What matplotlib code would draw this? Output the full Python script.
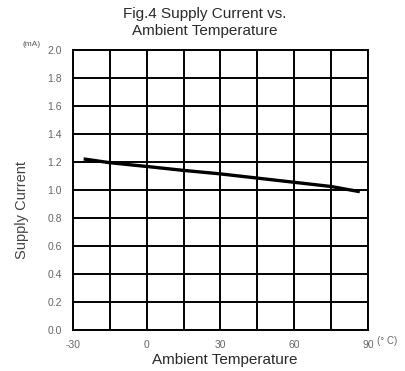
import numpy as np
import matplotlib
matplotlib.use('Agg')
import matplotlib.pyplot as plt

# data
temps   = [-25, -15, 0, 15, 30, 45, 60, 75, 86]
current = [1.22, 1.195, 1.168, 1.14, 1.115, 1.085, 1.055, 1.025, 0.99]

x_ticks  = [-30, 0, 30, 60, 90]
x_labels = ['-30', '0', '30', '60', '90']
y_ticks  = [0.0, 0.2, 0.4, 0.6, 0.8, 1.0, 1.2, 1.4, 1.6, 1.8, 2.0]

W, H = 406, 371
plt.rcParams['font.family'] = ['Liberation Sans', 'DejaVu Sans']

fig = plt.figure(figsize=(W / 100, H / 100), dpi=100)
# plot box: x 73..368 px, y 50..330 px
ax = fig.add_axes([73 / W, 1 - 330 / H, 295 / W, 280 / H])

# grid: every 15 deg / 0.2 mA
for xv in np.arange(-30, 91, 15):
    ax.axvline(xv, color='black', lw=1.4, zorder=1)
for yv in y_ticks:
    ax.axhline(yv, color='black', lw=1.4, zorder=1)

ax.plot(temps, current, color='black', lw=2.4, zorder=3)

ax.set_xlim(-30, 90)
ax.set_ylim(0, 2.0)
ax.set_xticks(x_ticks)
ax.set_xticklabels(x_labels)
ax.set_yticks(y_ticks)
ax.set_yticklabels([f'{v:.1f}' for v in y_ticks])
ax.tick_params(length=0, labelsize=7.5, labelcolor='#666666')
ax.tick_params(axis='y', pad=8)
ax.tick_params(axis='x', pad=7)
for s in ax.spines.values():
    s.set_linewidth(1.4)

fig.text(225 / W, 1 - 360 / H, 'Ambient Temperature', ha='center', va='center',
         fontsize=11, color='#2a2a2a')
fig.text(22.5 / W, 1 - 210 / H, 'Supply Current', ha='center', va='center',
         rotation=90, fontsize=10.5, color='#444444')

fig.text(205 / W, 1 - 14 / H, 'Fig.4 Supply Current vs.', ha='center', va='center',
         fontsize=11, color='#2a2a2a')
fig.text(205 / W, 1 - 31 / H, 'Ambient Temperature', ha='center', va='center',
         fontsize=11, color='#2a2a2a')

fig.text(32 / W, 1 - 45 / H, '(mA)', ha='center', va='center', fontsize=6,
         color='#555555')
fig.text(387 / W, 1 - 341 / H, '(° C)', ha='center', va='center', fontsize=7,
         color='#666666')

fig.savefig('out.png', dpi=100)
